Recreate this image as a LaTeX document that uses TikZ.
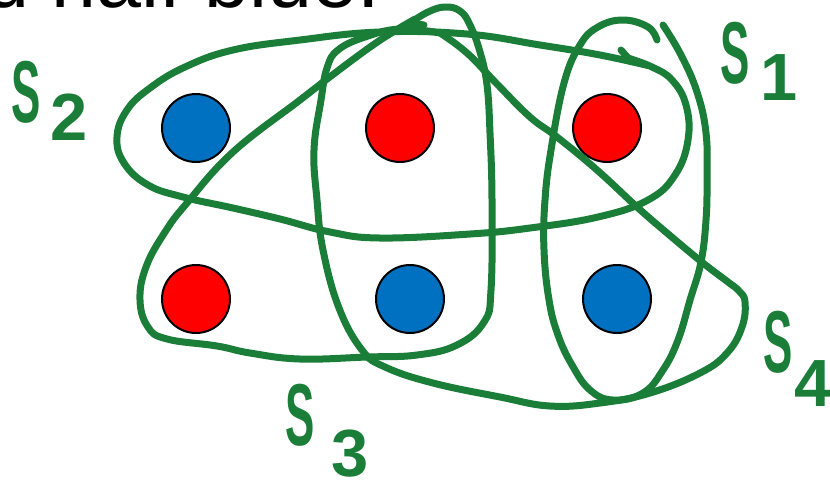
\documentclass[tikz,border=0pt]{standalone}
\usepackage{xcolor}
\usepackage{graphicx}
\usepackage{fontspec}
\setmainfont{Liberation Sans}
\usepackage{tikz}
\usetikzlibrary{
  positioning
}
\definecolor{setgreen}{RGB}{26,125,56}
\definecolor{dotblue}{RGB}{0,112,192}
\definecolor{dotred}{RGB}{255,0,0}
\tikzset{
  dotnode/.style={
    circle, draw=black, line width=0.04cm,
    minimum size=1.36cm, inner sep=0pt
  },
  bluedot/.style={dotnode, fill=dotblue},
  reddot/.style={dotnode, fill=dotred},
  setline/.style={
    draw=setgreen, line width=0.14cm,
    line cap=round, line join=round
  },
  setlabel/.style={
    text=setgreen, font=\fontsize{50}{50}\selectfont\bfseries,
    inner sep=0pt, anchor=base west
  },
  toptext/.style={
    text=black, font=\fontsize{46}{46}\selectfont,
    inner sep=0pt, anchor=base east
  }
}
\newcommand{\Sname}[3]{\scalebox{.5}[1]{S}\hspace{#2}\raisebox{-#3}{\fontsize{38}{38}\selectfont\bfseries #1}}

\begin{document}
\begin{tikzpicture}[x=0.02cm, y=-0.02cm]

    \useasboundingbox (0,0) rectangle (830,491);
    \clip (0,0) rectangle (830,491);

    % cut-off line of the slide above
    \node[toptext] (caption) at (380,7) {d half blue.};

    % the six points
    \node[bluedot] (top1) at (196,128) {};
    \node[reddot]  (top2) at (400,128) {};
    \node[reddot]  (top3) at (607,128) {};
    \node[reddot]  (bot1) at (196,299) {};
    \node[bluedot] (bot2) at (410,299) {};
    \node[bluedot] (bot3) at (617,299) {};

    % S1
    \draw[setline] plot[smooth, tension=.7] coordinates {
      (657,40) (648,27) (623,20) (598,27) (580,45) (564,83) (551,150)
      (545,200) (544,250) (549,300) (558,335) (572,365) (590,390) (613,400)
      (643,393) (663,370) (678,340) (690,300) (701,262) (706,220) (707,180)
      (706,133) (697,92) (681,55) (663,25)};

    % S2
    \draw[setline] (621,50) -- (628,58);
    \draw[setline] plot[smooth, tension=.7] coordinates {
      (628,58) (652,67) (672,80) (686,105) (688,140) (675,175) (648,200)
      (598,217) (530,228) (470,234) (380,238) (330,232) (280,219) (233,208)
      (183,197) (148,185) (124,163) (117,137) (127,110) (150,88) (185,67)
      (233,50) (300,40) (380,32) (467,34) (540,45) (600,55) (650,66)};

    % S3
    \draw[setline] (424,25) -- (410,23);
    \draw[setline] plot[smooth, tension=.7] coordinates {
      (410,23) (428,12) (445,7) (460,11) (470,25) (480,52) (487,85)
      (490,133) (492,200) (491,290) (484,322) (457,345) (417,355) (367,357)
      (300,359) (250,353) (217,346) (167,339) (148,327) (140,300) (146,267)
      (165,232) (187,203) (233,152) (300,100) (335,73) (373,45) (398,29)
      (415,19)};

    % S4
    \draw[setline] plot[smooth, tension=.7] coordinates {
      (440,33) (400,29) (365,37) (338,50) (327,68) (321,100) (314,150)
      (317,200) (323,250) (339,308) (362,350) (385,367) (433,383) (500,397)
      (550,406) (600,403) (650,393) (700,373) (727,353) (742,327) (745,302)
      (739,291) (728,282) (703,263) (667,233) (637,207) (597,170) (557,137)
      (530,117) (497,84) (467,53) (440,33)};

    % set names
    \node[setlabel] (s1lab) at (720,83)  {\Sname{1}{0.22cm}{0.35cm}};
    \node[setlabel] (s2lab) at (11,122)  {\Sname{2}{0.20cm}{0.37cm}};
    \node[setlabel] (s3lab) at (285,445) {\Sname{3}{0.34cm}{0.62cm}};
    \node[setlabel] (s4lab) at (763,372) {\Sname{4}{0.04cm}{0.68cm}};

\end{tikzpicture}
\end{document}
